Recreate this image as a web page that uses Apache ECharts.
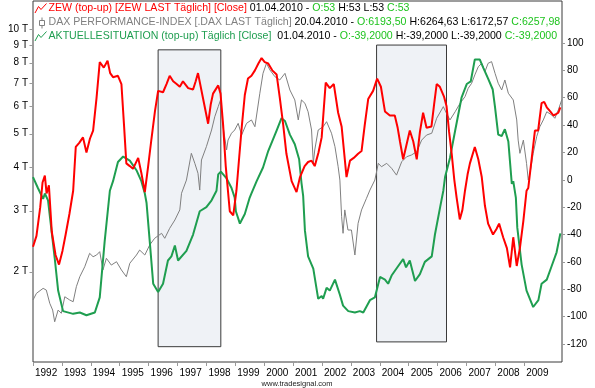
<!DOCTYPE html>
<html><head><meta charset="utf-8">
<script src="https://cdn.jsdelivr.net/npm/echarts@6/dist/echarts.min.js"></script>
<style>html,body{margin:0;padding:0;background:#fff}#c{width:595px;height:388px}</style>
</head><body><div id="c"></div>
<script>
// ---------- data (times as decimal years) ----------
const yearTicks = [1992,1993,1994,1995,1996,1997,1998,1999,2000,2001,2002,2003,2004,2005,2006,2007,2008,2009];
const leftTicks = [2000,3000,4000,5000,6000,7000,8000,9000,10000];
const rightTicks = [-120,-100,-80,-60,-40,-20,0,20,40,60,80,100];

const zewT = [1992.00,1992.12,1992.25,1992.33,1992.41,1992.47,1992.55,1992.65,1992.78,1992.90,1993.02,1993.13,1993.26,1993.39,1993.48,1993.60,1993.73,1993.85,1993.97,1994.08,1994.20,1994.31,1994.45,1994.58,1994.67,1994.77,1994.94,1995.06,1995.15,1995.23,1995.35,1995.46,1995.64,1995.75,1995.87,1995.98,1996.10,1996.22,1996.33,1996.50,1996.62,1996.73,1996.85,1996.97,1997.08,1997.19,1997.37,1997.54,1997.63,1997.71,1997.88,1998.06,1998.15,1998.23,1998.41,1998.49,1998.58,1998.67,1998.81,1998.93,1999.04,1999.13,1999.23,1999.33,1999.44,1999.56,1999.68,1999.80,1999.91,2000.02,2000.14,2000.28,2000.43,2000.54,2000.66,2000.77,2000.95,2001.12,2001.24,2001.40,2001.52,2001.64,2001.75,2001.88,2001.99,2002.13,2002.27,2002.41,2002.56,2002.68,2002.85,2002.97,2003.10,2003.25,2003.37,2003.48,2003.60,2003.77,2003.91,2004.04,2004.18,2004.35,2004.52,2004.62,2004.70,2004.81,2004.92,2005.04,2005.16,2005.28,2005.39,2005.50,2005.62,2005.79,2005.88,2005.97,2006.08,2006.22,2006.31,2006.40,2006.49,2006.58,2006.66,2006.77,2006.86,2006.95,2007.04,2007.12,2007.29,2007.41,2007.53,2007.64,2007.75,2007.92,2008.04,2008.13,2008.27,2008.40,2008.51,2008.62,2008.74,2008.85,2008.97,2009.08,2009.14,2009.25,2009.37,2009.48,2009.60,2009.69,2009.78,2009.90,2010.01,2010.10,2010.18,2010.25];
const zewV = [-49,-41,-20,-2,3,-10,-4,-38,-55,-62,-52,-40,-25,-8,24,27,31,20,30,36,60,86,82,87,78,75,76,70,40,12,10,8,16,5,-9,9,30,50,65,64,70,76,72,70,68,72,67,66,72,78,60,41,55,63,69,63,40,10,-23,-26,-8,15,40,62,74,76,80,85,89,86,85,80,77,60,40,19,-1,-9,2,10,13,14,10,20,31,71,67,70,49,39,2,14,16,19,21,40,59,65,74,68,50,47,47,38,28,15,25,36,28,15,35,49,38,39,55,70,68,61,54,35,19,0,-13,-29,-22,-8,4,12,24,15,2,-19,-32,-40,-36,-32,-42,-50,-64,-42,-63,-50,-30,-8,-6,14,36,36,56,57,53,50,47,48,49,53];

const daxT = [1992.00,1992.12,1992.35,1992.46,1992.58,1992.68,1992.75,1992.87,1992.98,1993.10,1993.27,1993.39,1993.50,1993.62,1993.79,1993.96,1994.08,1994.20,1994.31,1994.42,1994.54,1994.71,1994.89,1995.06,1995.23,1995.35,1995.58,1995.69,1995.87,1996.04,1996.21,1996.45,1996.56,1996.73,1996.91,1997.08,1997.14,1997.31,1997.48,1997.60,1997.71,1997.77,1997.83,1998.00,1998.18,1998.29,1998.41,1998.49,1998.58,1998.70,1998.75,1998.87,1998.98,1999.10,1999.22,1999.39,1999.56,1999.68,1999.85,1999.96,2000.08,2000.20,2000.37,2000.54,2000.72,2000.89,2001.06,2001.18,2001.29,2001.41,2001.52,2001.64,2001.70,2001.75,2001.87,2002.04,2002.16,2002.33,2002.45,2002.56,2002.62,2002.68,2002.73,2002.79,2002.90,2003.02,2003.14,2003.25,2003.37,2003.54,2003.66,2003.83,2003.95,2004.06,2004.24,2004.41,2004.58,2004.76,2004.93,2005.10,2005.28,2005.45,2005.62,2005.80,2005.97,2006.20,2006.31,2006.43,2006.61,2006.78,2006.95,2007.06,2007.18,2007.29,2007.41,2007.53,2007.64,2007.75,2007.87,2007.99,2008.10,2008.22,2008.33,2008.45,2008.62,2008.74,2008.79,2008.85,2008.97,2009.08,2009.14,2009.20,2009.31,2009.43,2009.54,2009.66,2009.78,2009.95,2010.06,2010.18,2010.30];
const daxV = [1658,1733,1791,1771,1622,1551,1435,1551,1518,1694,1658,1639,1811,1935,2067,2259,2209,2234,2284,2023,2186,2090,2137,2023,1935,2115,2234,2309,2234,2389,2496,2580,2496,2667,2818,3013,3364,3672,4385,4103,3841,3437,4195,4583,5118,5588,5976,6248,5231,4484,4789,5010,5118,5349,4951,5349,5471,5231,6530,7453,7966,7619,7291,7132,7453,6673,6248,5471,6248,6110,5777,5118,4103,4483,5118,5231,5408,5010,4583,4011,3672,2881,2580,3013,2637,2637,2234,2756,3013,3253,3437,3672,4103,4012,4103,3970,3795,4148,4286,4337,4434,4786,4950,5010,5532,5976,5716,5471,5777,6110,6383,6748,6977,7374,7785,7966,7535,7966,8054,7453,6977,6673,7131,6530,6248,5471,4786,4385,4786,4103,3672,3841,4385,4896,5231,5471,5777,5655,5532,5848,6258];

const aktT = [1992.00,1992.17,1992.35,1992.41,1992.52,1992.75,1992.87,1993.04,1993.39,1993.62,1993.85,1994.14,1994.31,1994.48,1994.66,1994.77,1994.94,1995.12,1995.35,1995.58,1995.75,1995.87,1995.93,1996.04,1996.16,1996.33,1996.50,1996.67,1996.79,1996.91,1997.02,1997.31,1997.54,1997.77,1998.00,1998.18,1998.35,1998.41,1998.50,1998.70,1998.87,1998.98,1999.02,1999.16,1999.33,1999.50,1999.56,1999.74,1999.96,2000.14,2000.43,2000.60,2000.72,2000.89,2001.06,2001.21,2001.29,2001.35,2001.41,2001.52,2001.70,2001.87,2001.99,2002.04,2002.16,2002.27,2002.45,2002.62,2002.73,2002.91,2003.14,2003.31,2003.43,2003.66,2003.83,2004.01,2004.18,2004.29,2004.41,2004.64,2004.81,2004.91,2005.04,2005.22,2005.39,2005.56,2005.80,2005.91,2006.09,2006.20,2006.26,2006.43,2006.61,2006.83,2007.01,2007.15,2007.29,2007.46,2007.58,2007.75,2007.91,2007.99,2008.10,2008.22,2008.33,2008.45,2008.57,2008.62,2008.71,2008.76,2008.91,2009.08,2009.31,2009.49,2009.60,2009.78,2009.95,2010.12,2010.25];
const aktV = [2,-6,-14,-10,-15,-57,-81,-96,-98,-97,-99,-97,-86,-45,-8,-1,13,17,14,7,-1,-10,-17,-45,-76,-82,-76,-59,-56,-48,-59,-52,-40,-23,-20,-15,-8,4,6,1,-6,-13,-23,-32,-25,-13,-10,-1,9,21,36,45,43,33,26,15,-2,-12,-37,-56,-65,-87,-85,-87,-79,-81,-73,-84,-92,-96,-97,-96,-97,-88,-86,-71,-73,-76,-70,-63,-58,-64,-59,-74,-69,-60,-56,-40,-20,-8,2,16,36,60,70,72,88,88,82,74,66,53,33,32,37,28,-3,-1,-13,-35,-62,-81,-93,-88,-76,-73,-63,-53,-39.2];

const boxStart = [1996.33, 2003.89];
const boxEnd = [1998.50, 2006.31];
const boxTop = [95, 98.5];
const boxBottom = [-122, -118.5];

// ---------- helpers ----------
const pairs = (t,v) => t.map((x,i)=>[x, v[i]]);
const FONT = 'Liberation Sans, Arial, sans-serif';
const RED = '#ff0000', GREEN = '#1f9e50', GRAY = '#808080', BRIGHT = '#1ec31e';

const chart = echarts.init(document.getElementById('c'), null, {renderer:'canvas'});

chart.setOption({
  animation:false,
  backgroundColor:'#fff',
  grid:{left:33,right:33,top:1,bottom:26,show:true,borderColor:'#3a3a3a',borderWidth:1,backgroundColor:'transparent'},
  xAxis:{type:'value',min:1992.0,max:2010.307,position:'bottom',
    axisLine:{show:false,onZero:false},splitLine:{show:false},
    axisTick:{show:true,customValues:yearTicks,length:4,lineStyle:{color:'#999'}},
    axisLabel:{customValues:yearTicks,formatter:v=>String(Math.round(v)),align:'left',padding:[0,0,0,2],margin:6,
      color:'#000',fontSize:10,fontFamily:FONT,hideOverlap:false}},
  yAxis:[
    {type:'log',logBase:10,min:1099,max:12040,position:'left',
      axisLine:{show:false,onZero:false},axisTick:{show:false},axisLabel:{show:false},splitLine:{show:false}},
    {type:'value',min:-133.2,max:130.7,position:'right',
      axisLine:{show:false,onZero:false},splitLine:{show:false},
      axisTick:{show:true,customValues:rightTicks,length:3,lineStyle:{color:'#999'}},
      axisLabel:{customValues:rightTicks,margin:5,color:'#000',fontSize:10,fontFamily:FONT}}
  ],
  series:[
    {name:'DAX',type:'line',yAxisIndex:0,data:pairs(daxT,daxV),showSymbol:false,symbol:'none',z:2,
      lineStyle:{color:GRAY,width:1},itemStyle:{color:GRAY}},
    {name:'AKTUELLESITUATION',type:'line',yAxisIndex:1,data:pairs(aktT,aktV),showSymbol:false,symbol:'none',z:3,
      lineStyle:{color:GREEN,width:2},itemStyle:{color:GREEN},
      markArea:{silent:true,z:1,itemStyle:{color:'#eff2f6',borderColor:'#3a3a3a',borderWidth:1},
        data:boxStart.map((s,i)=>[{xAxis:s,yAxis:boxTop[i]},{xAxis:boxEnd[i],yAxis:boxBottom[i]}])}},
    {name:'ZEW',type:'line',yAxisIndex:1,data:pairs(zewT,zewV),showSymbol:false,symbol:'none',z:4,
      lineStyle:{color:RED,width:2},itemStyle:{color:RED}}
  ]
});

// ---------- left log-axis labels placed through the axis scale ----------
const g = [];
leftTicks.forEach(v=>{
  const py = chart.convertToPixel({yAxisIndex:0}, v);
  g.push({type:'line',silent:true,shape:{x1:29.5,y1:Math.round(py)+0.5,x2:32.5,y2:Math.round(py)+0.5},style:{stroke:'#999',lineWidth:1}});
  g.push({type:'text',silent:true,x:28,y:py,style:{text:(v/1000)+' T',align:'right',verticalAlign:'middle',fill:'#000',fontSize:10,fontFamily:FONT}});
});

// ---------- header lines ----------
const rich = {
  r:{fill:RED,fontSize:10.6,fontFamily:FONT},
  k:{fill:'#000',fontSize:10.6,fontFamily:FONT},
  g:{fill:BRIGHT,fontSize:10.6,fontFamily:FONT},
  s:{fill:GRAY,fontSize:10.6,fontFamily:FONT},
  a:{fill:GREEN,fontSize:10.6,fontFamily:FONT}
};
const header = [
  '{r|ZEW (top-up) [ZEW LAST Täglich] [Close]}{k| 01.04.2010 - }{g|O:53}{k| H:53 L:53 }{g|C:53}',
  '{s|DAX PERFORMANCE-INDEX [.DAX LAST Täglich]}{k| 20.04.2010 - }{g|O:6193,50}{k| H:6264,63 L:6172,57 }{g|C:6257,98}',
  '{a|AKTUELLESITUATION (top-up) Täglich [Close]}{k|  01.04.2010 - }{g|O:-39,2000}{k| H:-39,2000 L:-39,2000 }{g|C:-39,2000}'
];
const headerY = [8.5, 22.5, 36];
header.forEach((t,i)=>{
  g.push({type:'text',silent:true,x:48.5,y:headerY[i],style:{text:t,rich:rich,verticalAlign:'middle',align:'left',fontSize:10.6,fontFamily:FONT}});
});
g.push({type:'polyline',silent:true,shape:{points:[[35,13],[38.5,6.5],[41,9.5],[46.5,3.5]]},style:{stroke:RED,lineWidth:1,fill:null}});
g.push({type:'rect',silent:true,shape:{x:39.5,y:20.5,width:5,height:5},style:{stroke:GRAY,lineWidth:1,fill:'#fff'}});
g.push({type:'line',silent:true,shape:{x1:42,y1:17.5,x2:42,y2:20.5},style:{stroke:GRAY,lineWidth:1}});
g.push({type:'line',silent:true,shape:{x1:42,y1:25.5,x2:42,y2:28.5},style:{stroke:GRAY,lineWidth:1}});
g.push({type:'polyline',silent:true,shape:{points:[[35,41],[38.5,34.5],[41,37.5],[46.5,31.5]]},style:{stroke:GREEN,lineWidth:1,fill:null}});
g.push({type:'text',silent:true,x:297,y:384,style:{text:'www.tradesignal.com',align:'center',verticalAlign:'middle',fill:'#222',fontSize:7.5,fontFamily:FONT}});

chart.setOption({graphic:g});
</script>
</body></html>
